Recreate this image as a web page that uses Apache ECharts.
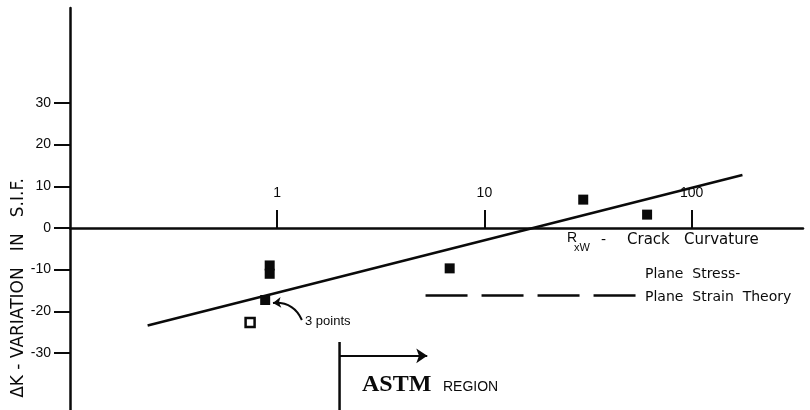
<!DOCTYPE html>
<html><head><meta charset="utf-8">
<script src="https://cdn.jsdelivr.net/npm/echarts@6/dist/echarts.min.js"></script>
<style>html,body{margin:0;background:#fff}#chart{width:810px;height:410px}</style>
</head><body><div id="chart"></div>
<script>
// Crack curvature R/W (log scale) against the variation of the stress intensity factor
const curvature = [0.92, 0.92, 0.875, 6.8, 30, 61];
const sifVariation = [-9, -11, -17.3, -9.7, 6.8, 3.2];
const openCurvature = [0.74];
const openVariation = [-22.7];
const fitCurvature = [0.237, 176];
const fitVariation = [-23.4, 12.7];
const theoryCurvature = [5.2, 57];
const theoryVariation = [-16.2, -16.2];
const astmCurvature = [2, 2];
const astmVariation = [-27.4, -43.7];
const astmArrowCurvature = [2, 5.3];
const astmArrowVariation = [-30.7, -30.7];
const noteArrowCurvature = [1.316, 0.954];
const noteArrowVariation = [-22.1, -18.0];
const yTicks = [-30, -20, -10, 0, 10, 20, 30];
const xTicks = [1, 10, 100];

const ink = '#0a0a0a';
const zip = (xs, ys) => xs.map((x, i) => [x, ys[i]]);

const chart = echarts.init(document.getElementById('chart'));
chart.setOption({
  animation: false,
  backgroundColor: '#fff',
  grid: { left: 70, right: 7, top: 8, bottom: 0, containLabel: false },
  xAxis: {
    type: 'log', logBase: 10, min: 0.1, max: 345,
    axisLine: { onZero: true, lineStyle: { color: ink, width: 2.5 } },
    axisTick: { inside: true, length: 18, customValues: xTicks, lineStyle: { color: ink, width: 2 } },
    axisLabel: { show: false },
    splitLine: { show: false }, minorTick: { show: false }
  },
  yAxis: {
    type: 'value', min: -43.7, max: 52.8,
    axisLine: { show: true, lineStyle: { color: ink, width: 2.5 } },
    axisTick: { show: true, length: 16, customValues: yTicks, lineStyle: { color: ink, width: 2 } },
    axisLabel: { margin: 19, color: ink, fontSize: 14, fontFamily: 'Liberation Sans', customValues: yTicks },
    splitLine: { show: false }
  },
  series: [
    { type: 'line', data: zip(fitCurvature, fitVariation), symbol: 'none',
      lineStyle: { color: ink, width: 2.5 }, z: 2 },
    { type: 'line', data: zip(theoryCurvature, theoryVariation), symbol: 'none',
      lineStyle: { color: ink, width: 2.5, type: [42, 14] } },
    { type: 'line', data: zip(astmCurvature, astmVariation), symbol: 'none',
      lineStyle: { color: ink, width: 2.5 } },
    { type: 'lines', coordinateSystem: 'cartesian2d',
      data: [{ coords: zip(astmArrowCurvature, astmArrowVariation) }],
      symbol: ['none', 'arrow'], symbolSize: 11,
      lineStyle: { color: ink, width: 2.2, opacity: 1 } },
    { type: 'lines', coordinateSystem: 'cartesian2d',
      data: [{ coords: zip(noteArrowCurvature, noteArrowVariation) }],
      symbol: ['none', 'arrow'], symbolSize: 8,
      lineStyle: { color: ink, width: 2, opacity: 1, curveness: -0.35 } },
    { type: 'scatter', data: zip(curvature, sifVariation), symbol: 'rect', symbolSize: 10,
      itemStyle: { color: ink, opacity: 1 }, z: 5 },
    { type: 'scatter', data: zip(openCurvature, openVariation), symbol: 'rect', symbolSize: 9,
      itemStyle: { color: '#fff', borderColor: ink, borderWidth: 2.5, opacity: 1 }, z: 5 },
    // decade labels sitting above the ticks on the zero line
    { type: 'scatter', data: xTicks.map(v => [v, 0]), symbolSize: 0, silent: true,
      itemStyle: { opacity: 1 },
      label: { show: true, position: 'top', distance: 28, color: ink, opacity: 1, fontSize: 14,
        fontFamily: 'Liberation Sans', formatter: p => String(p.value[0]) } }
  ],
  graphic: [
    { type: 'text', x: 19, y: 288, rotation: Math.PI / 2,
      style: { text: 'ΔK - VARIATION   IN   S.I.F.', fill: ink, font: '17px "DejaVu Sans"',
        align: 'center', verticalAlign: 'middle' } },
    { type: 'text', x: 305, y: 321,
      style: { text: '3 points', fill: ink, font: '13px "Liberation Sans"', verticalAlign: 'middle' } },
    { type: 'text', x: 567, y: 238,
      style: { text: 'R', fill: ink, font: '14px "Liberation Sans"', verticalAlign: 'middle' } },
    { type: 'text', x: 574, y: 248,
      style: { text: 'xW', fill: ink, font: '11px "Liberation Sans"', verticalAlign: 'middle' } },
    { type: 'text', x: 601, y: 240,
      style: { text: '-', fill: ink, font: '14px "DejaVu Sans"', verticalAlign: 'middle' } },
    { type: 'text', x: 627, y: 240,
      style: { text: 'Crack   Curvature', fill: ink, font: '15px "DejaVu Sans"', verticalAlign: 'middle' } },
    { type: 'text', x: 645, y: 274,
      style: { text: 'Plane  Stress-', fill: ink, font: '14px "DejaVu Sans"', verticalAlign: 'middle' } },
    { type: 'text', x: 645, y: 297,
      style: { text: 'Plane  Strain  Theory', fill: ink, font: '14px "DejaVu Sans"', verticalAlign: 'middle' } },
    { type: 'text', x: 362, y: 385,
      style: { text: 'ASTM', fill: ink, font: 'bold 24px "Liberation Serif"', verticalAlign: 'middle' } },
    { type: 'text', x: 443, y: 387,
      style: { text: 'REGION', fill: ink, font: '14px "Liberation Sans"', verticalAlign: 'middle' } }
  ]
});
</script></body></html>
